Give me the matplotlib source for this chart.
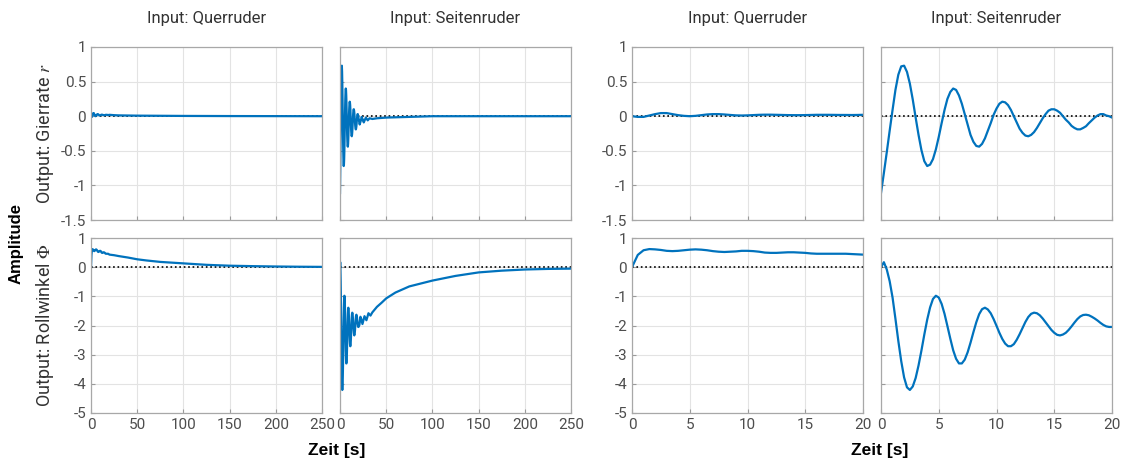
import matplotlib.pyplot as plt
import numpy as np

# time samples (s) for the first 20 s
t_half = [i * 0.5 for i in range(41)]      # 0.5 s steps
t_quarter = [i * 0.25 for i in range(81)]  # 0.25 s steps

# Querruder -> Gierrate r
qr_r_fine = [0.0, -0.01, -0.01, 0.01, 0.03, 0.045, 0.045, 0.03, 0.015, 0.005,
             0.0, 0.005, 0.015, 0.025, 0.03, 0.03, 0.025, 0.018, 0.012, 0.01,
             0.012, 0.016, 0.02, 0.022, 0.022, 0.02, 0.018, 0.016, 0.015, 0.015,
             0.016, 0.018, 0.02, 0.02, 0.02, 0.019, 0.018, 0.018, 0.017, 0.018, 0.02]
t_qr_r_tail = [25, 30, 50, 100, 150, 250]
qr_r_tail = [0.015, 0.012, 0.008, 0.004, 0.002, 0.0]

# Querruder -> Rollwinkel Phi
qr_phi_fine = [0.0, 0.42, 0.58, 0.62, 0.61, 0.59, 0.56, 0.55, 0.56, 0.58,
               0.60, 0.61, 0.60, 0.58, 0.55, 0.53, 0.52, 0.53, 0.54, 0.56,
               0.56, 0.55, 0.53, 0.50, 0.49, 0.49, 0.50, 0.51, 0.51, 0.50,
               0.49, 0.47, 0.46, 0.46, 0.46, 0.46, 0.46, 0.46, 0.45, 0.44, 0.43]
t_qr_phi_tail = [25, 30, 40, 50, 60, 75, 100, 125, 150, 175, 200, 225, 250]
qr_phi_tail = [0.41, 0.38, 0.33, 0.27, 0.23, 0.18, 0.13, 0.08, 0.05, 0.035, 0.023, 0.015, 0.01]

# Seitenruder -> Gierrate r
sr_r_fine = [-1.11, -0.82, -0.52, -0.21, 0.09, 0.38, 0.60, 0.72, 0.73, 0.64,
             0.47, 0.24, -0.02, -0.27, -0.49, -0.65, -0.72, -0.70, -0.62, -0.48,
             -0.30, -0.10, 0.09, 0.25, 0.35, 0.40, 0.38, 0.30, 0.18, 0.03,
             -0.12, -0.27, -0.37, -0.43, -0.44, -0.40, -0.32, -0.21, -0.10, 0.02,
             0.11, 0.18, 0.21, 0.20, 0.16, 0.09, 0.0, -0.09, -0.18, -0.24,
             -0.28, -0.29, -0.27, -0.23, -0.17, -0.10, -0.03, 0.03, 0.08, 0.10,
             0.10, 0.08, 0.05, 0.0, -0.05, -0.09, -0.14, -0.17, -0.19, -0.19,
             -0.17, -0.145, -0.10, -0.06, -0.02, 0.01, 0.03, 0.03, 0.01, 0.0,
             -0.02]
t_sr_r_tail = [20.5, 21.3, 22.4, 23.5, 24.6, 25.7, 27, 28, 30, 32, 35, 40, 50, 75, 100, 250]
sr_r_tail = [-0.06, -0.12, -0.07, -0.01, -0.05, -0.09, -0.05, -0.02, -0.06, -0.03,
             -0.04, -0.03, -0.02, -0.01, 0.0, 0.0]

# Seitenruder -> Rollwinkel Phi
sr_phi_fine = [0.0, 0.17, -0.08, -0.48, -1.04, -1.77, -2.53, -3.22, -3.78, -4.12,
               -4.21, -4.09, -3.80, -3.37, -2.86, -2.31, -1.80, -1.38, -1.09, -0.98,
               -1.04, -1.26, -1.60, -2.02, -2.45, -2.85, -3.14, -3.30, -3.30, -3.17,
               -2.92, -2.59, -2.23, -1.89, -1.61, -1.44, -1.39, -1.45, -1.58, -1.78,
               -2.01, -2.25, -2.46, -2.62, -2.71, -2.71, -2.64, -2.49, -2.30, -2.09,
               -1.88, -1.71, -1.60, -1.56, -1.58, -1.65, -1.76, -1.89, -2.02, -2.15,
               -2.25, -2.32, -2.34, -2.31, -2.25, -2.15, -2.03, -1.90, -1.78, -1.69,
               -1.64, -1.63, -1.65, -1.70, -1.76, -1.83, -1.91, -1.98, -2.03, -2.05,
               -2.05]
t_sr_phi_tail = [21, 22.1, 23, 24.3, 26.5, 28.6, 30.8, 33, 35, 40, 45, 50, 60, 75,
                 100, 125, 150, 175, 200, 225, 250]
sr_phi_tail = [-1.98, -1.70, -1.78, -1.95, -1.68, -1.82, -1.58, -1.66, -1.55, -1.36,
               -1.22, -1.07, -0.87, -0.66, -0.46, -0.30, -0.18, -0.12, -0.08, -0.06, -0.05]

inputs = ['Input: Querruder', 'Input: Seitenruder']
outputs = ['Output: Gierrate $r$', 'Output: Rollwinkel $\\Phi$']
y_limits = [(-1.5, 1), (-5, 1)]
y_ticks = [[-1.5, -1, -0.5, 0, 0.5, 1], [-5, -4, -3, -2, -1, 0, 1]]
y_ticklabels = [['-1.5', '-1', '-0.5', '0', '0.5', '1'],
                ['-5', '-4', '-3', '-2', '-1', '0', '1']]
x_ranges = [(0, 250, [0, 50, 100, 150, 200, 250]), (0, 20, [0, 5, 10, 15, 20])]

# [output][input] -> (t, y)
curves = [
    [(t_half + t_qr_r_tail, qr_r_fine + qr_r_tail),
     (t_quarter + t_sr_r_tail, sr_r_fine + sr_r_tail)],
    [(t_half + t_qr_phi_tail, qr_phi_fine + qr_phi_tail),
     (t_quarter + t_sr_phi_tail, sr_phi_fine + sr_phi_tail)],
]

plt.rcParams['font.family'] = ['Roboto', 'DejaVu Sans']
plt.rcParams['mathtext.fontset'] = 'stix'

W, H = 1123, 463
fig = plt.figure(figsize=(W / 100, H / 100), dpi=100)

col_left = [91, 340, 632, 881]
col_w = 231
row_top = [47, 238]
row_h = [173, 175]
blue = '#0072BD'
gray = '#4d4d4d'

for g in range(2):           # two groups: full time / zoom 0-20 s
    x0, x1, xt = x_ranges[g]
    for i in range(2):       # input column
        c = g * 2 + i
        for o in range(2):   # output row
            left = col_left[c] / W
            bottom = (H - row_top[o] - row_h[o]) / H
            ax = fig.add_axes([left, bottom, col_w / W, row_h[o] / H])
            t, y = curves[o][i]
            ax.plot([x0, x1], [0, 0], ':', color='black', lw=1.2)
            ax.plot(t, y, color=blue, lw=1.6)
            ax.set_xlim(x0, x1)
            ax.set_ylim(*y_limits[o])
            ax.set_xticks(xt)
            ax.set_yticks(y_ticks[o])
            ax.grid(True, color='#e3e3e3', lw=0.8)
            ax.set_axisbelow(True)
            ax.tick_params(direction='in', length=3, colors='#9a9a9a',
                           labelcolor=gray, labelsize=11)
            for s in ax.spines.values():
                s.set_color('#a8a8a8')
                s.set_linewidth(0.9)
            if i == 0:
                ax.set_yticklabels(y_ticklabels[o])
            else:
                ax.set_yticklabels([])
            if o == 1:
                ax.set_xticklabels([str(v) for v in xt])
            else:
                ax.set_xticklabels([])
            if o == 0:
                fig.text((col_left[c] + col_w / 2) / W, 1 - 19 / H, inputs[i],
                         ha='center', va='center', fontsize=12, color='#333333')

for o in range(2):
    yc = row_top[o] + row_h[o] / 2
    fig.text(45 / W, 1 - yc / H, outputs[o], rotation=90, ha='center',
             va='center', fontsize=13, color='#333333')

fig.text(16 / W, 1 - 243 / H, 'Amplitude', rotation=90, ha='center', va='center',
         fontsize=12, fontweight='bold', family=['Liberation Sans', 'DejaVu Sans'])
for xc in [337, 880]:
    fig.text(xc / W, 1 - 451 / H, 'Zeit [s]', ha='center', va='center',
             fontsize=12.5, fontweight='bold', family=['Liberation Sans', 'DejaVu Sans'])

fig.savefig('out.png', dpi=100)
